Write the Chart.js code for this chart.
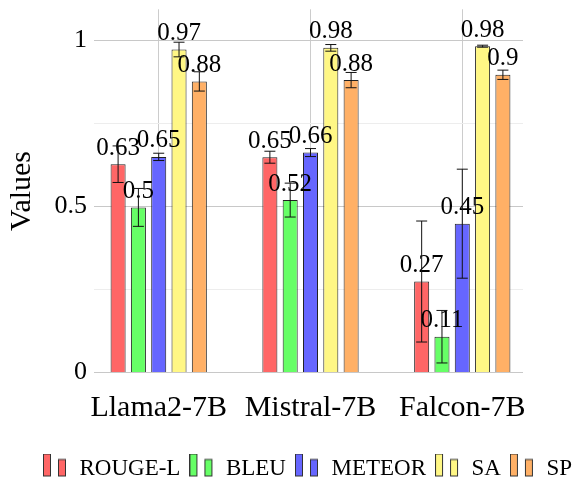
<!DOCTYPE html>
<html><head><meta charset="utf-8">
<script src="https://cdn.jsdelivr.net/npm/chart.js@4.4.1/dist/chart.umd.min.js"></script>
<style>html,body{margin:0;padding:0;background:#fff}#wrap{width:576px;height:480px;position:relative}</style>
</head><body><div id="wrap"><canvas id="c"></canvas></div>
<script>
const categories = ['Llama2-7B', 'Mistral-7B', 'Falcon-7B'];
const seriesNames = ['ROUGE-L', 'BLEU', 'METEOR', 'SA', 'SP'];
const rougeL = [0.627, 0.648, 0.274];
const rougeLErr = [0.055, 0.018, 0.182];
const bleu = [0.497, 0.519, 0.108];
const bleuErr = [0.057, 0.051, 0.079];
const meteor = [0.649, 0.662, 0.448];
const meteorErr = [0.011, 0.012, 0.164];
const sa = [0.972, 0.977, 0.982];
const saErr = [0.022, 0.010, 0.003];
const sp = [0.876, 0.880, 0.896];
const spErr = [0.029, 0.023, 0.014];
const yTicks = [0, 0.25, 0.5, 0.75, 1];
const yTickLabels = ['0', '', '0.5', '', '1'];
const colors = ['#ff6666', '#66ff66', '#6666ff', '#fff785', '#ffb066'];

const seriesValues = [rougeL, bleu, meteor, sa, sp];
const seriesErrors = [rougeLErr, bleuErr, meteorErr, saErr, spErr];
const SERIF = '"Liberation Serif", "Times New Roman", Times, serif';

function fmt(v) { return String(Math.round(v * 100) / 100); }

function makeIcon(color) {
  const c = document.createElement('canvas');
  c.width = 25; c.height = 30;
  const g = c.getContext('2d');
  g.fillStyle = color; g.strokeStyle = '#333'; g.lineWidth = 1;
  g.fillRect(0.5, 0.5, 7, 22); g.strokeRect(0.5, 0.5, 7, 22);
  g.fillRect(15.5, 6, 7, 16.5); g.strokeRect(15.5, 6, 7, 16.5);
  return c;
}
const icons = colors.map(makeIcon);

const datasets = seriesNames.map((name, s) => ({
  label: name,
  data: categories.map((c, i) => ({ x: i, y: seriesValues[s][i] })),
  backgroundColor: colors[s],
  borderColor: '#222',
  borderWidth: 1,
  categoryPercentage: 0.669,
  barPercentage: 0.74
}));

const extrasPlugin = {
  id: 'extras',
  afterLayout(chart) {
    const l = chart.legend;
    const dx = 19.5, dy = 10;
    l.left += dx; l.right += dx; l.top += dy; l.bottom += dy;
  },
  afterDatasetsDraw(chart) {
    const ctx = chart.ctx;
    const ys = chart.scales.y;
    ctx.save();
    chart.data.datasets.forEach((ds, s) => {
      const meta = chart.getDatasetMeta(s);
      meta.data.forEach((el, i) => {
        const v = seriesValues[s][i];
        ctx.fillStyle = '#000';
        ctx.font = '25px ' + SERIF;
        ctx.textAlign = 'center';
        ctx.textBaseline = 'alphabetic';
        ctx.fillText(fmt(v), el.x, el.y - 9.5);
      });
    });
    chart.data.datasets.forEach((ds, s) => {
      const meta = chart.getDatasetMeta(s);
      meta.data.forEach((el, i) => {
        const v = seriesValues[s][i], e = seriesErrors[s][i];
        const yt = ys.getPixelForValue(v + e), yb = ys.getPixelForValue(v - e);
        ctx.strokeStyle = '#111'; ctx.lineWidth = 1;
        ctx.beginPath();
        ctx.moveTo(el.x, yt); ctx.lineTo(el.x, yb);
        ctx.moveTo(el.x - 5.5, yt); ctx.lineTo(el.x + 5.5, yt);
        ctx.moveTo(el.x - 5.5, yb); ctx.lineTo(el.x + 5.5, yb);
        ctx.stroke();
      });
    });
    ctx.restore();
  }
};

new Chart(document.getElementById('c'), {
  type: 'bar',
  data: { datasets },
  plugins: [extrasPlugin],
  options: {
    responsive: true,
    maintainAspectRatio: false,
    animation: false,
    layout: { padding: { top: 9.3, right: 0, left: 0, bottom: 0 } },
    plugins: {
      tooltip: { enabled: false },
      legend: {
        position: 'bottom',
        labels: {
          usePointStyle: true,
          pointStyleWidth: 25,
          padding: 9,
          color: '#000',
          font: { family: SERIF, size: 23 },
          generateLabels(chart) {
            return seriesNames.map((n, i) => ({
              text: n, pointStyle: icons[i], fillStyle: colors[i],
              strokeStyle: '#333', lineWidth: 0, datasetIndex: i, hidden: false
            }));
          }
        }
      }
    },
    scales: {
      x: {
        type: 'linear',
        min: -0.4, max: 2.4,
        offset: false,
        afterBuildTicks(s) { s.ticks = categories.map((c, i) => ({ value: i })); },
        afterFit(s) { s.height = 65.4; s.paddingLeft = 0; s.paddingRight = 0; },
        ticks: {
          autoSkip: false, maxRotation: 0, minRotation: 0,
          padding: 18, color: '#000',
          font: { family: SERIF, size: 30 },
          callback: v => categories[v]
        },
        grid: { offset: false, color: '#cccccc', drawTicks: false, lineWidth: 1 },
        border: { display: false }
      },
      y: {
        min: 0, max: 1.093,
        afterBuildTicks(s) { s.ticks = yTicks.map(v => ({ value: v })); },
        afterFit(s) { s.width = 98; s.paddingTop = 0; s.paddingBottom = 0; },
        ticks: {
          padding: 7, color: '#000',
          font: { family: SERIF, size: 26 },
          callback: (v, i) => yTickLabels[i]
        },
        grid: {
          color: c => (c.tick && yTickLabels[c.index] !== '') ? '#c8c8c8' : '#ededed',
          tickLength: 4, lineWidth: 1
        },
        border: { display: false },
        title: {
          display: true, text: 'Values', color: '#000',
          font: { family: SERIF, size: 30 },
          padding: { top: 4, bottom: 0 }
        }
      },
      yR: {
        position: 'right',
        display: true,
        afterFit(s) { s.width = 53; s.paddingTop = 0; s.paddingBottom = 0; },
        ticks: { display: false },
        grid: { display: false, drawTicks: false },
        border: { display: false }
      }
    }
  }
});
</script></body></html>
